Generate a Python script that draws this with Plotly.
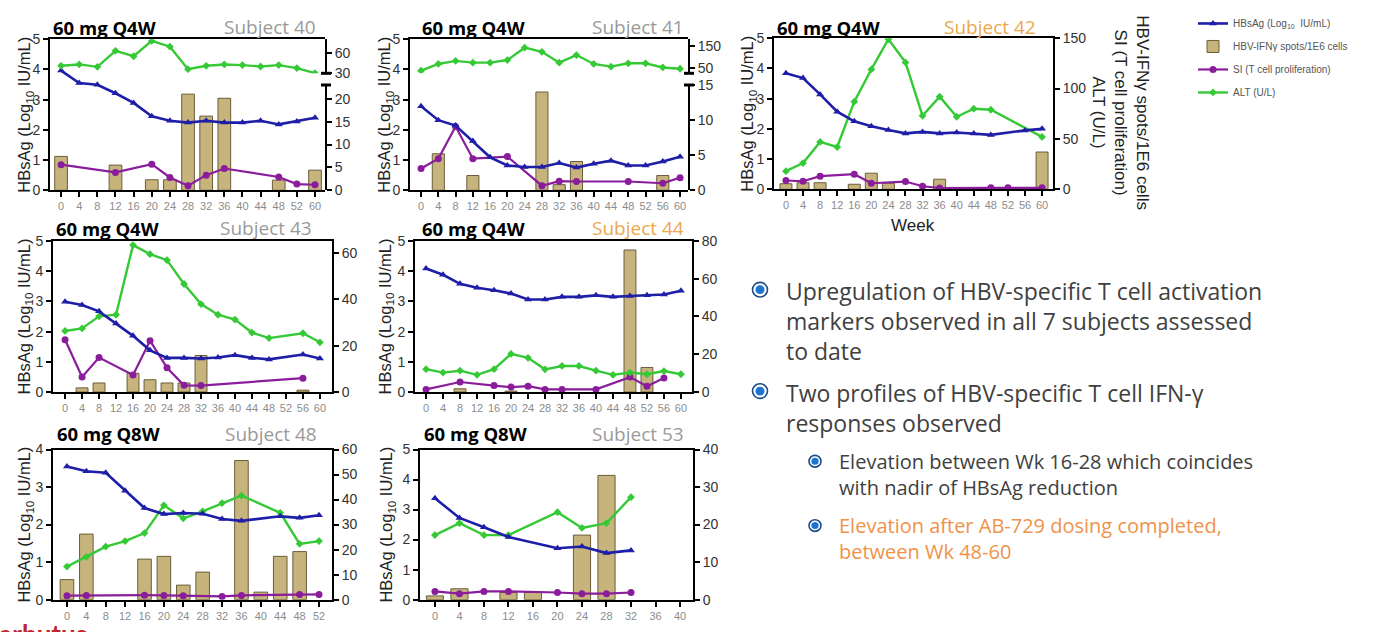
import plotly.graph_objects as go

W, H = 1393, 632

# ---------------- data ----------------
weeks_s40 = ["0", "4", "8", "12", "16", "20", "24", "28", "32", "36", "40", "44", "48", "52", "60"]
weeks_0_60 = ["0", "4", "8", "12", "16", "20", "24", "28", "32", "36", "40", "44", "48", "52", "56", "60"]
weeks_0_52 = ["0", "4", "8", "12", "16", "20", "24", "28", "32", "36", "40", "44", "48", "52"]
weeks_0_40 = ["0", "4", "8", "12", "16", "20", "24", "28", "32", "36", "40"]

s40_hbsag = [3.96, 3.55, 3.49, 3.21, 2.89, 2.45, 2.30, 2.24, 2.30, 2.24, 2.24, 2.30, 2.18, 2.28, 2.40]
s40_ifn = [7.4, None, None, 5.5, None, 2.3, 2.3, 21, 16.2, 20.1, None, None, 2.2, None, 4.4]
s40_si = [5.6, None, None, 3.9, None, 5.7, 2.8, 1.0, 3.3, 4.75, None, None, 2.9, 1.35, 1.2]
s40_alt = [41, 43, 39.5, 63, 55, 77.5, 69, 36, 41, 43, 42, 40, 42, 37.6, 30.2]

s41_hbsag = [2.78, 2.32, 2.14, 1.63, 1.09, 0.82, 0.77, 0.77, 0.90, 0.75, 0.88, 0.98, 0.82, 0.82, 0.95, 1.11]
s41_ifn = [None, 5.2, None, 2.1, None, None, None, 14.0, 0.8, 4.1, None, None, None, None, 2.1, None]
s41_si = [3.1, 4.5, 9.1, 4.5, None, 4.8, None, 0.65, 1.3, 1.25, None, None, 1.25, None, 1.0, 1.8]
s41_alt = [38, 69, 83, 75, 75, 87, 144, 125, 75, 110, 69, 57, 72, 72, 53, 47]

s42_hbsag = [3.84, 3.68, 3.14, 2.57, 2.25, 2.09, 1.96, 1.85, 1.90, 1.85, 1.88, 1.85, 1.80, None, 1.95, 2.00]
s42_ifn = [5.5, 6.5, 6.5, None, 5, 16, 6, None, None, 10, None, None, None, None, None, 37]
s42_si = [8.7, 8, 13, None, 15, 6, None, 7.7, 3, 1.3, None, None, 1.5, 1.5, None, 1.5]
s42_alt = [18, 26, 47, 42, 87, 119, 149, 126, 73, 92, 72, 80, 79, None, None, 52]

s43_hbsag = [2.99, 2.88, 2.67, 2.27, 1.86, 1.38, 1.13, 1.13, 1.11, 1.14, 1.22, 1.13, 1.08, None, 1.24, 1.11]
s43_ifn = [None, 1.8, 3.9, None, 8.1, 5.3, 3.9, 3.9, 15.8, None, None, None, None, None, 0.8, None]
s43_si = [22.6, 6.5, 14.9, None, 7.4, 22.2, 10.5, 2.9, 2.8, None, None, None, None, None, 6.0, None]
s43_alt = [26.4, 27.5, 32.7, 33.4, 63.5, 59.6, 57, 46.7, 38, 33.4, 31.3, 25.7, 23.3, None, 25.4, 21.5]

s44_hbsag = [4.09, 3.88, 3.58, 3.45, 3.37, 3.26, 3.06, 3.06, 3.15, 3.15, 3.20, 3.15, 3.18, 3.20, 3.23, 3.35]
s44_ifn = [None, None, 1.7, None, None, 0.5, None, None, None, None, None, None, 75.2, 13, None, None]
s44_si = [1.4, None, 5.3, None, 3.4, 2.6, 3.1, 1.4, 1.4, None, 1.4, None, 7.9, 3.1, 7.4, None]
s44_alt = [12.1, 10.3, 11.3, 9.1, 12.1, 20.2, 18.1, 12.0, 13.8, 13.8, 11.3, 9.1, 10.3, 9.4, 11.1, 9.4]

s48_hbsag = [3.55, 3.42, 3.38, 2.90, 2.44, 2.28, 2.31, 2.29, 2.15, 2.10, None, 2.22, 2.18, 2.25]
s48_ifn = [8, 26.2, None, None, 16.2, 17.3, 5.8, 11, None, 55.6, 3, 17.3, 19.2, None]
s48_si = [1.6, 1.7, None, None, 1.8, 1.7, 1.6, None, 1.3, 1.7, None, None, 2.1, 2.1]
s48_alt = [13.2, 17.1, 21.2, 23.4, 26.6, 37.7, 32.5, 35.3, 38.6, 41.6, None, 34.7, 22.3, 23.4]

s53_hbsag = [3.38, 2.72, 2.41, 2.09, None, 1.71, 1.77, 1.55, 1.64, None, None]
s53_ifn = [1.0, 2.9, None, 1.9, 1.9, None, 17.2, 33.1, None, None, None]
s53_si = [2.2, 1.6, 2.2, 2.2, None, 1.9, 1.6, 1.6, 1.9, None, None]
s53_alt = [17.2, 20.4, 17.2, 17.2, None, 23.3, 19.1, 20.4, 27.3, None, None]

series_names = ["HBsAg (Log<sub>10</sub>  IU/mL)", "HBV-IFNγ spots/1E6 cells",
                "SI (T cell proliferation)", "ALT (U/L)"]

# ---------------- styles / layout ----------------
C_BLUE = "#1e1ea8"
C_GREEN = "#36c936"
C_PURPLE = "#8a1d9c"
C_BAR = "#c7b47c"
C_BAR_LINE = "#6b5d3b"
C_ORANGE = "#eba84c"
C_GREY = "#9a9a9a"

panels = [
    dict(subject="Subject 40", dose="60 mg Q4W", weeks=weeks_s40, hb=s40_hbsag, ifn=s40_ifn, si=s40_si, alt=s40_alt,
         px=(50, 325), py=(32, 187), xr=(-0.61, 14.55), left=(0, 5), lt=[0, 1, 2, 3, 4, 5],
         broken=dict(low=(79, 187), lowr=(0, 23), lowt=[0, 5, 10, 15, 20],
                     up=(32, 67), upr=(30, 80), upt=[30, 60]),
         scol=C_GREY, dose_x=51, subj_x=318, ty=20, ltx=25),
    dict(subject="Subject 41", dose="60 mg Q4W", weeks=weeks_0_60, hb=s41_hbsag, ifn=s41_ifn, si=s41_si, alt=s41_alt,
         px=(410, 688), py=(32, 187), xr=(-0.64, 15.46), left=(0, 5), lt=[0, 1, 2, 3, 4, 5],
         broken=dict(low=(79, 187), lowr=(0, 15), lowt=[0, 5, 10, 15],
                     up=(32, 67), upr=(26, 183), upt=[50, 150]),
         scol=C_GREY, dose_x=420, subj_x=686, ty=20, ltx=385),
    dict(subject="Subject 42", dose="60 mg Q4W", weeks=weeks_0_60, hb=s42_hbsag, ifn=s42_ifn, si=s42_si, alt=s42_alt,
         px=(774, 1053), py=(31, 186), xr=(-0.70, 15.64), left=(0, 5), lt=[0, 1, 2, 3, 4, 5],
         right=(0, 150), rt=[0, 50, 100, 150],
         scol=C_ORANGE, dose_x=775, subj_x=1038, ty=20, ltx=748),
    dict(subject="Subject 43", dose="60 mg Q4W", weeks=weeks_0_60, hb=s43_hbsag, ifn=s43_ifn, si=s43_si, alt=s43_alt,
         px=(53, 332), py=(239, 394), xr=(-0.71, 15.71), left=(0, 5), lt=[0, 1, 2, 3, 4, 5],
         right=(0, 65.3), rt=[0, 20, 40, 60],
         scol=C_GREY, dose_x=54, subj_x=314, ty=226, ltx=25),
    dict(subject="Subject 44", dose="60 mg Q4W", weeks=weeks_0_60, hb=s44_hbsag, ifn=s44_ifn, si=s44_si, alt=s44_alt,
         px=(415, 692), py=(239, 394), xr=(-0.65, 15.65), left=(0, 5), lt=[0, 1, 2, 3, 4, 5],
         right=(0, 80), rt=[0, 20, 40, 60, 80],
         scol=C_ORANGE, dose_x=420, subj_x=686, ty=226, ltx=386),
    dict(subject="Subject 48", dose="60 mg Q8W", weeks=weeks_0_52, hb=s48_hbsag, ifn=s48_ifn, si=s48_si, alt=s48_alt,
         px=(53, 332), py=(453, 607), xr=(-0.72, 13.67), left=(0, 4), lt=[0, 1, 2, 3, 4],
         right=(0, 60), rt=[0, 10, 20, 30, 40, 50, 60],
         scol=C_GREY, dose_x=55, subj_x=319, ty=437, ltx=25),
    dict(subject="Subject 53", dose="60 mg Q8W", weeks=weeks_0_40, hb=s53_hbsag, ifn=s53_ifn, si=s53_si, alt=s53_alt,
         px=(420, 693), py=(453, 607), xr=(-0.61, 10.53), left=(0, 5), lt=[0, 1, 2, 3, 4, 5],
         right=(0, 40), rt=[0, 10, 20, 30, 40],
         scol=C_GREY, dose_x=422, subj_x=686, ty=437, ltx=387),
]


def fx(p):
    return p / W


def fy(p):
    return 1 - p / H


def key(prefix, n):
    return f"{prefix}axis" if n == 1 else f"{prefix}axis{n}"


def ref(prefix, n):
    return prefix if n == 1 else f"{prefix}{n}"


AX_COMMON = dict(showline=True, linecolor="black", linewidth=2, ticks="outside", ticklen=5,
                 tickwidth=1.5, tickcolor="black", showgrid=False, zeroline=False)
YFONT = dict(family="Liberation Sans, Arial", size=14, color="#333333")

fig = go.Figure()
layout = {}
shapes = []
annotations = []
yid = 0

for k, p in enumerate(panels, start=1):
    xr_ = ref("x", k)
    yA = yid + 1
    yB = yid + 2
    yC = yid + 3 if "broken" in p else None
    yid = yC if yC else yB
    x0, x1 = p["px"]
    t0, t1 = p["py"]
    broken = p.get("broken")

    layout[key("x", k)] = dict(
        AX_COMMON, domain=[fx(x0), fx(x1)], anchor=ref("y", yB if broken else yA),
        type="category", categoryorder="array", categoryarray=p["weeks"],
        range=list(p["xr"]), tickmode="array", tickvals=p["weeks"], ticktext=p["weeks"],
        mirror=True, tickfont=dict(family="Liberation Sans, Arial", size=11, color="#8c8c8c"))

    left = dict(AX_COMMON, domain=[fy(t1), fy(t0)], anchor=xr_, side="left",
                range=list(p["left"]), tickmode="array", tickvals=p["lt"], tickfont=YFONT)
    if broken:
        lo0, lo1 = broken["low"]
        u0, u1 = broken["up"]
        layout[key("y", yA)] = dict(AX_COMMON, domain=[fy(lo1), fy(lo0)], anchor=xr_, side="right",
                                    range=list(broken["lowr"]), tickmode="array",
                                    tickvals=broken["lowt"], tickfont=YFONT)
        layout[key("y", yC)] = dict(AX_COMMON, domain=[fy(u1), fy(u0)], anchor=xr_, side="right",
                                    range=list(broken["upr"]), tickmode="array",
                                    tickvals=broken["upt"], tickfont=YFONT)
        for yy in (u1, lo0):
            shapes.append(dict(type="line", xref="paper", yref="paper",
                               x0=fx(x1 - 4), x1=fx(x1 + 6), y0=fy(yy), y1=fy(yy),
                               line=dict(color="black", width=3)))
    else:
        layout[key("y", yA)] = dict(AX_COMMON, domain=[fy(t1), fy(t0)], anchor=xr_, side="right",
                                    range=list(p["right"]), tickmode="array", tickvals=p["rt"],
                                    tickfont=YFONT)
        left["overlaying"] = ref("y", yA)
    layout[key("y", yB)] = left

    show = k == 1
    fig.add_trace(go.Bar(x=p["weeks"], y=p["ifn"], xaxis=xr_, yaxis=ref("y", yA), width=0.7,
                         marker=dict(color=C_BAR, line=dict(color=C_BAR_LINE, width=1)),
                         name=series_names[1], legendgroup="g2", legendrank=2, showlegend=show))
    fig.add_trace(go.Scatter(x=p["weeks"], y=p["si"], xaxis=xr_, yaxis=ref("y", yA), mode="lines+markers",
                             connectgaps=True, line=dict(color=C_PURPLE, width=2.2),
                             marker=dict(symbol="circle", size=7, color=C_PURPLE),
                             name=series_names[2], legendgroup="g3", legendrank=3, showlegend=show))
    fig.add_trace(go.Scatter(x=p["weeks"], y=p["alt"], xaxis=xr_, yaxis=ref("y", yC if broken else yA),
                             mode="lines+markers", connectgaps=True, line=dict(color=C_GREEN, width=2.4),
                             marker=dict(symbol="diamond", size=6, color=C_GREEN),
                             name=series_names[3], legendgroup="g4", legendrank=4, showlegend=show))
    fig.add_trace(go.Scatter(x=p["weeks"], y=p["hb"], xaxis=xr_, yaxis=ref("y", yB), mode="lines+markers",
                             connectgaps=True, line=dict(color=C_BLUE, width=2.6),
                             marker=dict(symbol="triangle-up", size=7, color=C_BLUE),
                             name=series_names[0], legendgroup="g1", legendrank=1, showlegend=show))

    # panel titles
    annotations.append(dict(text="<b>" + p["dose"] + "</b>", x=fx(p["dose_x"]), y=fy(p["ty"]),
                            xref="paper", yref="paper", xanchor="left", yanchor="middle", showarrow=False,
                            font=dict(family="Open Sans", size=18.5, color="black")))
    annotations.append(dict(text=p["subject"], x=fx(p["subj_x"]), y=fy(p["ty"]),
                            xref="paper", yref="paper", xanchor="right", yanchor="middle", showarrow=False,
                            font=dict(family="Open Sans", size=19, color=p["scol"])))
    # left axis title
    annotations.append(dict(text="HBsAg (Log<sub>10</sub> IU/mL)", x=fx(p["ltx"]), y=fy((t0 + t1) / 2),
                            xref="paper", yref="paper", xanchor="center", yanchor="middle", showarrow=False,
                            textangle=-90, font=dict(family="Liberation Sans, Arial", size=16.5, color="#222222")))

# right-hand axis title of subject 42 and Week label
annotations.append(dict(text="HBV-IFNγ spots/1E6 cells<br>SI (T cell proliferation)<br>ALT (U/L)",
                        x=fx(1121), y=fy(107), xref="paper", yref="paper", xanchor="center", yanchor="middle",
                        showarrow=False, textangle=90,
                        font=dict(family="Liberation Sans, Arial", size=17, color="#222222")))
annotations.append(dict(text="Week", x=fx(913), y=fy(223), xref="paper", yref="paper", xanchor="center",
                        yanchor="middle", showarrow=False,
                        font=dict(family="Liberation Sans, Arial", size=17, color="#222222")))

# bullet text (one annotation per bullet, lines joined with <br>)
bullets = [
    dict(cx=760, cy=289, r=7.5, lines=["Upregulation of HBV-specific T cell activation",
                                        "markers observed in all 7 subjects assessed",
                                        "to date"], ymid=321, tx=784, size=23, color="#404040"),
    dict(cx=760, cy=393, r=7.5, lines=["Two profiles of HBV-specific T cell IFN-γ",
                                        "responses observed"], ymid=410, tx=784, size=23, color="#404040"),
    dict(cx=815, cy=465, r=6, lines=["Elevation between Wk 16-28 which coincides",
                                      "with nadir of HBsAg reduction"], ymid=479, tx=837, size=20, color="#404040"),
    dict(cx=815, cy=531, r=6, lines=["Elevation after AB-729 dosing completed,",
                                      "between Wk 48-60"], ymid=544, tx=837, size=20, color="#f0924a"),
]
for b in bullets:
    r = b["r"]
    shapes.append(dict(type="circle", xref="paper", yref="paper",
                       x0=fx(b["cx"] - r), x1=fx(b["cx"] + r), y0=fy(b["cy"] + r), y1=fy(b["cy"] - r),
                       line=dict(color="#1d4c86", width=1.6), fillcolor="white"))
    ri = r * 0.6
    shapes.append(dict(type="circle", xref="paper", yref="paper",
                       x0=fx(b["cx"] - ri), x1=fx(b["cx"] + ri), y0=fy(b["cy"] + ri), y1=fy(b["cy"] - ri),
                       line=dict(width=0), fillcolor="#1a74d0"))
    annotations.append(dict(text="<br>".join(b["lines"]), x=fx(b["tx"]), y=fy(b["ymid"]), xref="paper",
                            yref="paper", xanchor="left", yanchor="middle", align="left", showarrow=False,
                            font=dict(family="Open Sans", size=b["size"], color=b["color"])))

# partly visible logo at the bottom edge
annotations.append(dict(text="<b>arbutus</b>", x=fx(-2), y=fy(625), xref="paper", yref="paper",
                        xanchor="left", yanchor="top", showarrow=False, borderpad=0,
                        font=dict(family="Lato", size=26, color="#c1272d")))

fig.update_layout(
    width=W, height=H, margin=dict(l=0, r=0, t=0, b=0), autosize=False,
    paper_bgcolor="white", plot_bgcolor="rgba(0,0,0,0)",
    font=dict(family="Liberation Sans, Arial", color="#333333"),
    showlegend=True,
    legend=dict(x=fx(1193), y=fy(1), xanchor="left", yanchor="top", itemwidth=30,
                tracegroupgap=4, bgcolor="rgba(0,0,0,0)",
                font=dict(family="Liberation Sans, Arial", size=10, color="#555555")),
    shapes=shapes, annotations=annotations, bargap=0.3,
    **layout,
)

fig.write_html("out.html")
